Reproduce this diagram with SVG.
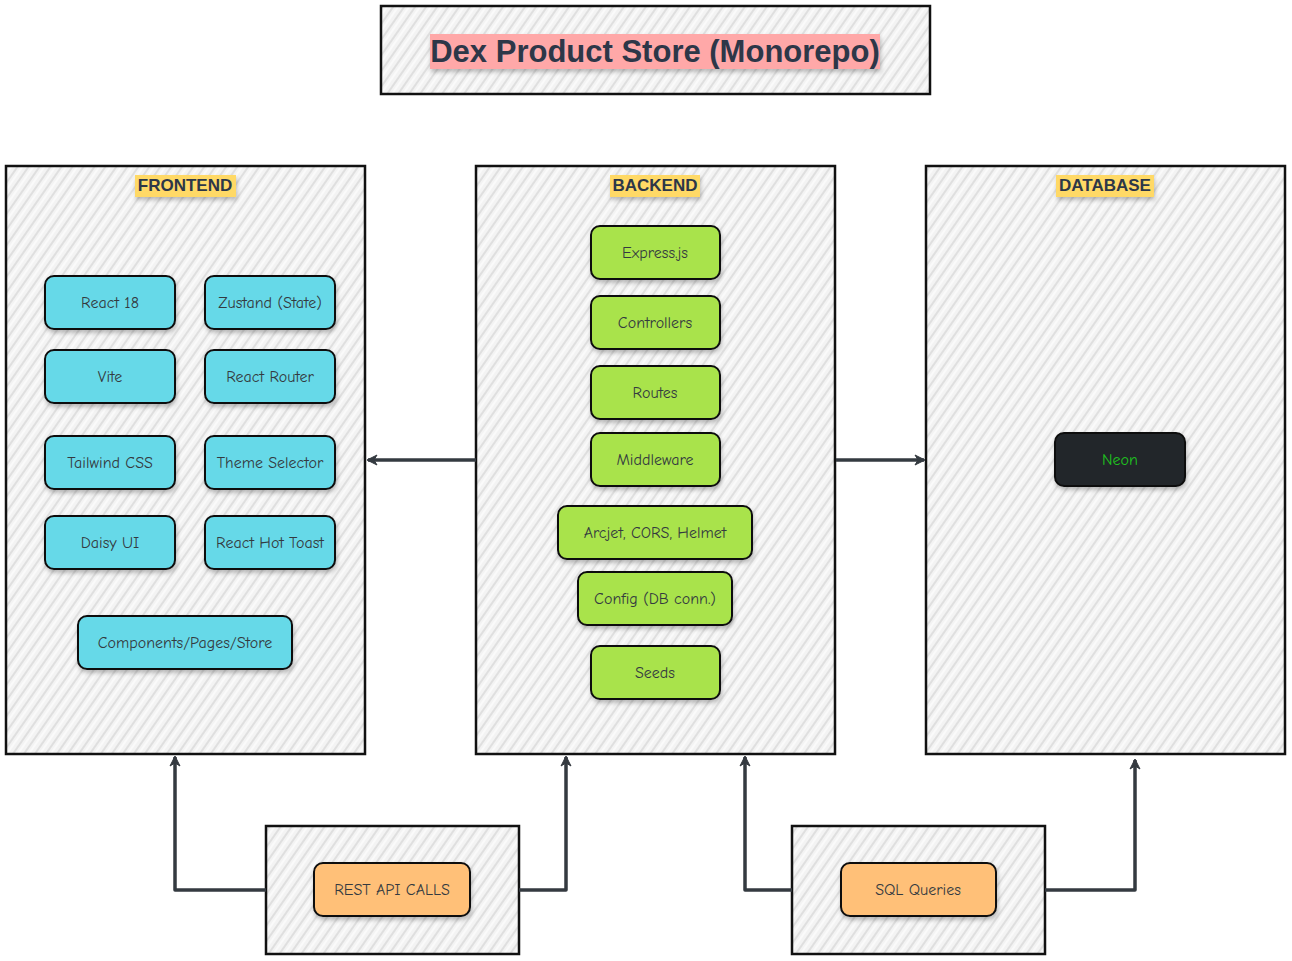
<svg xmlns="http://www.w3.org/2000/svg" width="1292" height="961" viewBox="0 0 1292 961">
<style>
.box{fill:url(#hatch);stroke:#111;stroke-width:2.5}
.node{stroke:#111;stroke-width:2;filter:url(#sh)}
.cyan{fill:#66d9e8}
.green{fill:#a9e34b}
.orange{fill:#ffc078}
.dark{fill:#212529}
.t{font-family:"Comic Neue","Liberation Sans",sans-serif;font-size:16px;fill:#343a40;text-anchor:middle;dominant-baseline:central}
.hdr{font-family:"Liberation Sans",Arial,sans-serif;font-weight:bold;font-size:17px;fill:#2d3748;text-anchor:middle}
.conn{fill:none;stroke:#343a40;stroke-width:3.5;stroke-linejoin:round;marker-end:url(#ah)}
</style>
<defs>
<pattern id="hatch" width="9" height="9" patternUnits="userSpaceOnUse" patternTransform="rotate(35)">
<rect width="9" height="9" fill="#f3f3f3"/>
<line x1="2" y1="0" x2="2" y2="9" stroke="#dadada" stroke-width="1.6"/>
<line x1="6" y1="0" x2="6" y2="9" stroke="#fcfcfc" stroke-width="1.6"/>
</pattern>
<filter id="sh" x="-20%" y="-20%" width="140%" height="150%">
<feDropShadow dx="1" dy="3" stdDeviation="2" flood-color="#000" flood-opacity="0.25"/>
</filter>
<marker id="ah" viewBox="0 0 12 12" refX="10" refY="6" markerWidth="12" markerHeight="12" markerUnits="userSpaceOnUse" orient="auto">
<path d="M1,1 L11,6 L1,11 L4,6 Z" fill="#343a40" stroke="#343a40" stroke-width="1"/>
</marker>
</defs>

<g id="title">
<rect class="box" x="381" y="6" width="549" height="88"/>
<rect x="430" y="34" width="450" height="35" fill="#ffa8a8" filter="url(#sh)"/>
<text x="655" y="62" font-family="'Liberation Sans',Arial,sans-serif" font-weight="bold" font-size="31" fill="#2d3748" text-anchor="middle">Dex Product Store (Monorepo)</text>
</g>

<g id="frontend">
<rect class="box" x="6" y="166" width="359" height="588"/>
<rect x="135" y="175" width="101" height="22" fill="#ffd966" filter="url(#sh)"/>
<text class="hdr" x="185" y="191">FRONTEND</text>
</g>
<g id="backend">
<rect class="box" x="476" y="166" width="359" height="588"/>
<rect x="610" y="175" width="90" height="22" fill="#ffd966" filter="url(#sh)"/>
<text class="hdr" x="655" y="191">BACKEND</text>
</g>
<g id="database">
<rect class="box" x="926" y="166" width="359" height="588"/>
<rect x="1056" y="175" width="98" height="22" fill="#ffd966" filter="url(#sh)"/>
<text class="hdr" x="1105" y="191">DATABASE</text>
</g>

<g id="react18"><rect class="node cyan" x="45" y="276" width="130" height="53" rx="9"/><text class="t" x="110" y="303">React 18</text></g>
<g id="zustand"><rect class="node cyan" x="205" y="276" width="130" height="53" rx="9"/><text class="t" x="270" y="303">Zustand (State)</text></g>
<g id="vite"><rect class="node cyan" x="45" y="350" width="130" height="53" rx="9"/><text class="t" x="110" y="377">Vite</text></g>
<g id="reactrouter"><rect class="node cyan" x="205" y="350" width="130" height="53" rx="9"/><text class="t" x="270" y="377">React Router</text></g>
<g id="tailwind"><rect class="node cyan" x="45" y="436" width="130" height="53" rx="9"/><text class="t" x="110" y="463">Tailwind CSS</text></g>
<g id="theme"><rect class="node cyan" x="205" y="436" width="130" height="53" rx="9"/><text class="t" x="270" y="463">Theme Selector</text></g>
<g id="daisy"><rect class="node cyan" x="45" y="516" width="130" height="53" rx="9"/><text class="t" x="110" y="543">Daisy UI</text></g>
<g id="toast"><rect class="node cyan" x="205" y="516" width="130" height="53" rx="9"/><text class="t" x="270" y="543">React Hot Toast</text></g>
<g id="components"><rect class="node cyan" x="78" y="616" width="214" height="53" rx="9"/><text class="t" x="185" y="643">Components/Pages/Store</text></g>

<g id="express"><rect class="node green" x="591" y="226" width="129" height="53" rx="9"/><text class="t" x="655" y="253">Express.js</text></g>
<g id="controllers"><rect class="node green" x="591" y="296" width="129" height="53" rx="9"/><text class="t" x="655" y="323">Controllers</text></g>
<g id="routes"><rect class="node green" x="591" y="366" width="129" height="53" rx="9"/><text class="t" x="655" y="393">Routes</text></g>
<g id="middleware"><rect class="node green" x="591" y="433" width="129" height="53" rx="9"/><text class="t" x="655" y="460">Middleware</text></g>
<g id="arcjet"><rect class="node green" x="558" y="506" width="194" height="53" rx="9"/><text class="t" x="655" y="533">Arcjet, CORS, Helmet</text></g>
<g id="config"><rect class="node green" x="578" y="572" width="154" height="53" rx="9"/><text class="t" x="655" y="599">Config (DB conn.)</text></g>
<g id="seeds"><rect class="node green" x="591" y="646" width="129" height="53" rx="9"/><text class="t" x="655" y="673">Seeds</text></g>

<g id="neon"><rect class="node dark" x="1055" y="433" width="130" height="53" rx="9"/><text class="t" x="1120" y="460" style="fill:#1fc01f">Neon</text></g>

<g id="restbox"><rect class="box" x="266" y="826" width="253" height="128"/>
<rect class="node orange" x="314" y="863" width="156" height="53" rx="9"/><text class="t" x="392" y="890">REST API CALLS</text></g>
<g id="sqlbox"><rect class="box" x="792" y="826" width="253" height="128"/>
<rect class="node orange" x="841" y="863" width="155" height="53" rx="9"/><text class="t" x="918" y="890">SQL Queries</text></g>

<g id="connectors">
<path class="conn" d="M476,460 L368,460"/>
<path class="conn" d="M836,460 L924,460"/>
<path class="conn" d="M266,890 L175,890 L175,757"/>
<path class="conn" d="M519,890 L566,890 L566,757"/>
<path class="conn" d="M792,890 L745,890 L745,757"/>
<path class="conn" d="M1045,890 L1135,890 L1135,760"/>
</g>
</svg>
